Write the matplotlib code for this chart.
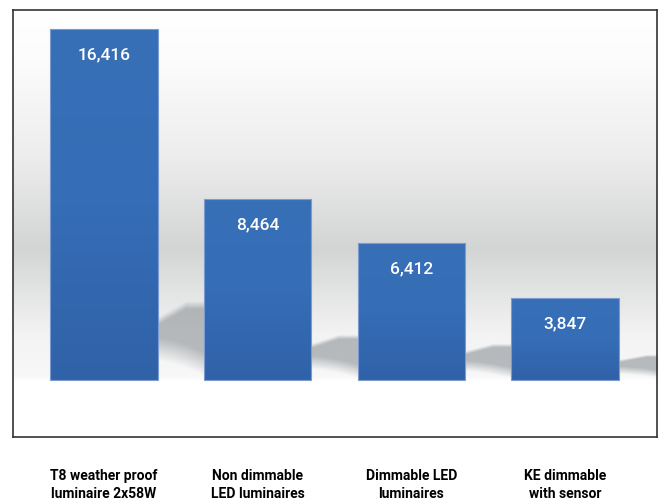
import numpy as np
import matplotlib
matplotlib.use('Agg')
import matplotlib.pyplot as plt
from matplotlib.colors import LinearSegmentedColormap, to_rgb

# 数据
categories = ['T8 weather proof\nluminaire 2x58W', 'Non dimmable\nLED luminaires',
              'Dimmable LED\nluminaires', 'KE dimmable\nwith sensor']
values = [16416, 8464, 6412, 3847]
value_labels = ['16,416', '8,464', '6,412', '3,847']

fig = plt.figure(figsize=(6.62, 5.01), dpi=100)
ax = fig.add_axes([13 / 662, 1 - 437 / 501, 644 / 662, 427 / 501])

x = np.arange(len(values))
width = 0.70
xmin, xmax = -0.593, 3.60
ymin, ymax = -2666, 17305

# 背景渐变（墙面）
bg = LinearSegmentedColormap.from_list('bg', [
    (0.0, '#ffffff'), (0.12, '#fcfcfc'), (0.35, '#ececec'), (0.56, '#d3d4d4'),
    (0.63, '#dedfdf'), (0.76, '#f3f3f3'), (0.86, '#f8f8f8'), (0.87, '#ffffff'),
    (1.0, '#ffffff')])
grad = np.linspace(0, 1, 512).reshape(-1, 1)
ax.imshow(grad, cmap=bg, aspect='auto', extent=(xmin, xmax, ymin, ymax),
          origin='upper', zorder=0)

# 阴影（柱子右后方，软边）
gap = 1 - width
u = np.linspace(0, 1, 60)[None, :]
t = np.linspace(1.1, 0, 160)[:, None]          # 相对高度（上到下）
top = 0.8 + 0.2 * np.clip(u / 0.6, 0, 1)
bottom = top * (0.3 - 0.25 * u)
s1 = np.clip((top - t) / 0.1, 0, 1)
s2 = np.clip((t - bottom) / 0.3, 0, 1)
alpha = 0.6 * s1 * s2
sh = np.zeros(alpha.shape + (4,))
sh[..., :3] = to_rgb('#8c9296')
sh[..., 3] = alpha
for xi, v in zip(x, values):
    x0 = xi + width / 2
    tr = v * 0.2 + 400
    ax.imshow(sh, aspect='auto', extent=(x0, x0 + gap, 0, tr * 1.1),
              origin='upper', zorder=1, interpolation='bilinear')

# 柱子
bar_cmap = LinearSegmentedColormap.from_list('bar', ['#3870b8', '#356db6', '#3062a8'])
bars = ax.bar(x, values, width, color='none', edgecolor='#7c9bd0', linewidth=0.8, zorder=3)
for b in bars:
    im = ax.imshow(np.linspace(0, 1, 128).reshape(-1, 1), cmap=bar_cmap, aspect='auto',
                   extent=(b.get_x(), b.get_x() + b.get_width(), 0, b.get_height()),
                   origin='upper', zorder=2)
    im.set_clip_path(b)

for xi, v, lab in zip(x, values, value_labels):
    ax.annotate(lab, (xi, v), xytext=(0, -18.5), textcoords='offset points',
                ha='center', va='center', color='white', fontsize=12.5,
                family='Roboto', fontweight='medium', zorder=4)

ax.set_xlim(xmin, xmax)
ax.set_ylim(ymin, ymax)
ax.set_xticks(x)
ax.set_xticklabels(categories, fontsize=10, family='Roboto',
                   fontweight='semibold', linespacing=1.35)
ax.tick_params(axis='x', length=0, pad=23)
ax.set_yticks([])
for s in ax.spines.values():
    s.set_color('#333333')
    s.set_linewidth(1.2)

plt.savefig('out.png')
